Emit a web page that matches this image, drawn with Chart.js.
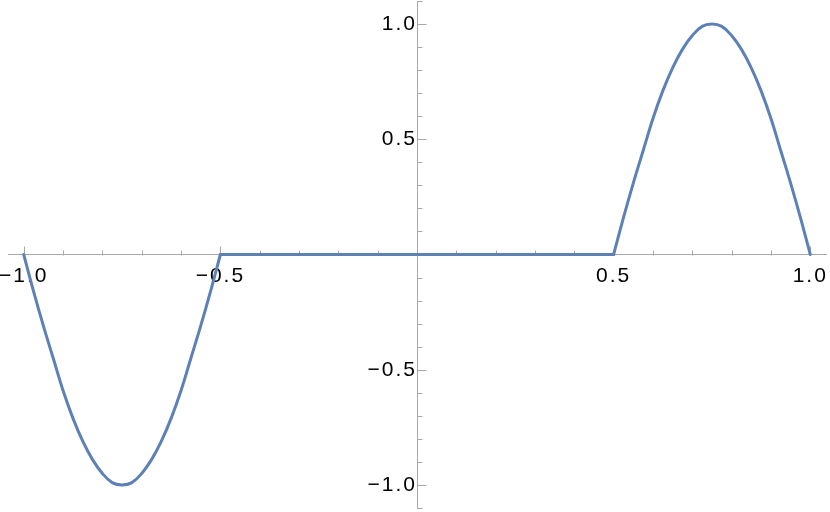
<!DOCTYPE html>
<html>
<head>
<meta charset="utf-8">
<script src="https://cdn.jsdelivr.net/npm/chart.js@4/dist/chart.umd.min.js"></script>
<style>
  html, body { margin: 0; padding: 0; background: #fff; }
  #wrap { width: 830px; height: 512px; }
</style>
</head>
<body>
<div id="wrap"><canvas id="c" width="830" height="512"></canvas></div>
<script>
const leftX = [-1.0, -0.975, -0.95, -0.925, -0.9, -0.875, -0.85, -0.825, -0.8, -0.775, -0.75,
  -0.725, -0.7, -0.675, -0.65, -0.625, -0.6, -0.575, -0.55, -0.525, -0.5];
const leftY = [0, -0.16, -0.31, -0.45, -0.59, -0.71, -0.81, -0.89, -0.95, -0.99, -1.0,
  -0.99, -0.95, -0.89, -0.81, -0.71, -0.59, -0.45, -0.31, -0.16, 0];
const midX = [-0.5, 0.0, 0.5];
const midY = [0, 0, 0];
const rightX = [0.5, 0.525, 0.55, 0.575, 0.6, 0.625, 0.65, 0.675, 0.7, 0.725, 0.75,
  0.775, 0.8, 0.825, 0.85, 0.875, 0.9, 0.925, 0.95, 0.975, 1.0];
const rightY = [0, 0.16, 0.31, 0.45, 0.59, 0.71, 0.81, 0.89, 0.95, 0.99, 1.0,
  0.99, 0.95, 0.89, 0.81, 0.71, 0.59, 0.45, 0.31, 0.16, 0];
const xTickValues = [-1.0, -0.5, 0.5, 1.0];
const yTickValues = [-1.0, -0.5, 0.5, 1.0];
const xMinorTicks = [-1.0,-0.9,-0.8,-0.7,-0.6,-0.5,-0.4,-0.3,-0.2,-0.1,0.1,0.2,0.3,0.4,0.5,0.6,0.7,0.8,0.9,1.0];
const yMinorTicks = [-1.1,-1.0,-0.9,-0.8,-0.7,-0.6,-0.5,-0.4,-0.3,-0.2,-0.1,0.1,0.2,0.3,0.4,0.5,0.6,0.7,0.8,0.9,1.0,1.1];

const lineColor = 'rgb(94,129,181)';
const axisColor = '#a8a8a8';
const fmt = v => (v < 0 ? '\u2212' : '') + Math.abs(v).toFixed(1);
const isMajor = v => Math.abs(Math.round(v * 2) - v * 2) < 1e-6;

const spacingPlugin = {
  id: 'spacing',
  beforeUpdate(chart) { chart.ctx.letterSpacing = '2px'; },
  beforeDraw(chart) { chart.ctx.letterSpacing = '2px'; }
};

const tickPlugin = {
  id: 'mmaTicks',
  beforeDatasetsDraw(chart) {
    const {ctx} = chart;
    const xs = chart.scales.x, ys = chart.scales.y;
    const x0 = xs.getPixelForValue(0), y0 = ys.getPixelForValue(0);
    ctx.save();
    ctx.strokeStyle = axisColor;
    ctx.lineWidth = 1;
    ctx.beginPath();
    xMinorTicks.forEach(v => {
      const len = isMajor(v) ? 9 : 5;
      const px = Math.round(xs.getPixelForValue(v)) + 0.5;
      ctx.moveTo(px, Math.round(y0) + 0.5);
      ctx.lineTo(px, Math.round(y0) + 0.5 - len);
    });
    yMinorTicks.forEach(v => {
      const len = isMajor(v) ? 9 : 5;
      const py = Math.round(ys.getPixelForValue(v)) + 0.5;
      ctx.moveTo(Math.round(x0) + 0.5, py);
      ctx.lineTo(Math.round(x0) + 0.5 + len, py);
    });
    ctx.stroke();
    ctx.restore();
  }
};

const toPts = (xs, ys) => xs.map((x, i) => ({x: x, y: ys[i]}));
const lineStyle = {
  borderColor: lineColor,
  borderWidth: 3,
  pointRadius: 0,
  fill: false,
  borderCapStyle: 'round',
  borderJoinStyle: 'round'
};

new Chart(document.getElementById('c'), {
  type: 'line',
  data: {
    datasets: [
      Object.assign({ data: toPts(leftX, leftY), tension: 0.4 }, lineStyle),
      Object.assign({ data: toPts(midX, midY), tension: 0 }, lineStyle),
      Object.assign({ data: toPts(rightX, rightY), tension: 0.4 }, lineStyle)
    ]
  },
  options: {
    responsive: false,
    animation: false,
    events: [],
    layout: { padding: { left: 8, right: 4, top: 1, bottom: 4 } },
    plugins: { legend: { display: false }, tooltip: { enabled: false } },
    scales: {
      x: {
        type: 'linear',
        position: { y: 0 },
        min: -1.04,
        max: 1.04,
        afterBuildTicks: s => { s.ticks = xTickValues.map(v => ({value: v})); },
        afterFit: s => { s.paddingLeft = 0; s.paddingRight = 0; s.paddingTop = 0; s.paddingBottom = 0; },
        grid: { display: true, drawOnChartArea: false, drawTicks: false },
        border: { display: true, color: axisColor, width: 1 },
        ticks: {
          padding: 9,
          autoSkip: false,
          maxRotation: 0,
          color: '#000',
          font: { family: 'Liberation Sans, Arial, sans-serif', size: 21 },
          callback: v => fmt(v)
        }
      },
      y: {
        type: 'linear',
        position: { x: 0 },
        min: -1.1,
        max: 1.1,
        afterBuildTicks: s => { s.ticks = yTickValues.map(v => ({value: v})); },
        afterFit: s => { s.paddingLeft = 0; s.paddingRight = 0; s.paddingTop = 0; s.paddingBottom = 0; },
        grid: { display: true, drawOnChartArea: false, drawTicks: false },
        border: { display: true, color: axisColor, width: 1 },
        ticks: {
          padding: 6,
          autoSkip: false,
          color: '#000',
          font: { family: 'Liberation Sans, Arial, sans-serif', size: 21 },
          callback: v => fmt(v)
        }
      }
    }
  },
  plugins: [spacingPlugin, tickPlugin]
});
</script>
</body>
</html>
